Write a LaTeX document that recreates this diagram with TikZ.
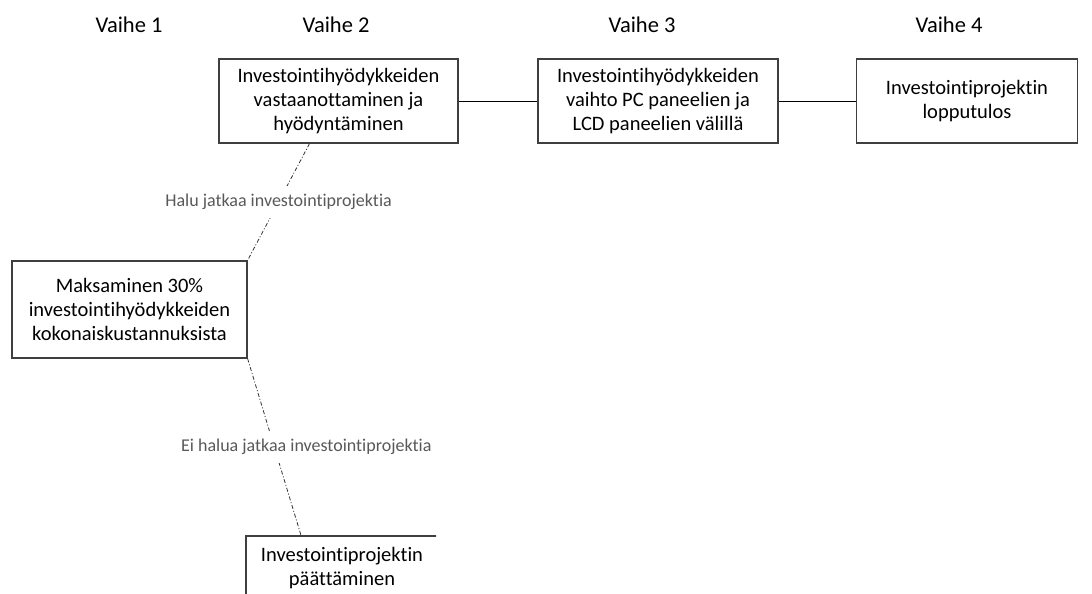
\documentclass[tikz,border=0pt]{standalone}
\usepackage{fontspec}
\setmainfont{Carlito}[Ligatures=NoCommon]
\usepackage{tikz}
\definecolor{boxline}{HTML}{3F3F3F}
\definecolor{labelgray}{HTML}{595959}
\tikzset{
  stage/.style={
    rectangle,
    draw=boxline,
    line width=1.2pt,
    align=center,
    inner sep=0pt,
    text=black,
    font=\fontsize{20.5}{24}\selectfont,
  },
  phase/.style={
    inner sep=0pt,
    font=\fontsize{22.5}{26}\selectfont,
  },
  branch/.style={
    line width=0.8pt,
    draw=black!80,
    dash pattern=on 4pt off 2pt on 1pt off 2pt,
  },
  choice/.style={
    fill=white,
    text=labelgray,
    inner xsep=2pt,
    inner ysep=8pt,
    font=\fontsize{18}{21}\selectfont,
  }
}

\begin{document}
\begin{tikzpicture}[x=1pt, y=-1pt]
    \useasboundingbox (0, 0) rectangle (1092, 594);

    \node[phase] (vaihe1) at (129, 25) {Vaihe 1};
    \node[phase] (vaihe2) at (336, 25) {Vaihe 2};
    \node[phase] (vaihe3) at (642, 25) {Vaihe 3};
    \node[phase] (vaihe4) at (949, 25) {Vaihe 4};

    \node[stage, minimum width=239pt, minimum height=84pt] (vastaanotto) at (338.5, 101) {Investointihyödykkeiden\\vastaanottaminen ja\\hyödyntäminen};
    \node[stage, minimum width=240pt, minimum height=84pt] (vaihto) at (658, 101) {Investointihyödykkeiden\\vaihto PC paneelien ja\\LCD paneelien välillä};
    \node[stage, minimum width=221pt, minimum height=84pt] (lopputulos) at (967, 101) {Investointiprojektin\\lopputulos};

    \node[stage, minimum width=235pt, minimum height=97pt] (maksu) at (129.5, 309.5) {Maksaminen 30\%\\investointihyödykkeiden\\kokonaiskustannuksista};

    % last box is cut off at the edge
    \begin{scope}
      \clip (0, 0) rectangle (436, 594);
      \node[stage, minimum width=192pt, minimum height=64pt] (paatos) at (342, 568) {Investointiprojektin\\päättäminen};
    \end{scope}

    \draw[line width=0.9pt] (vastaanotto) -- (vaihto);
    \draw[line width=0.9pt] (vaihto) -- (lopputulos);

    % Branches around the payment
    \draw[branch] ([xshift=-29pt]vastaanotto.south) -- (maksu.north east) node [midway, choice] {Halu jatkaa investointiprojektia};
    \draw[branch] (maksu.south east) -- ([xshift=-41pt]paatos.north) node [midway, choice, xshift=32pt] {Ei halua jatkaa investointiprojektia};

\end{tikzpicture}
\end{document}
